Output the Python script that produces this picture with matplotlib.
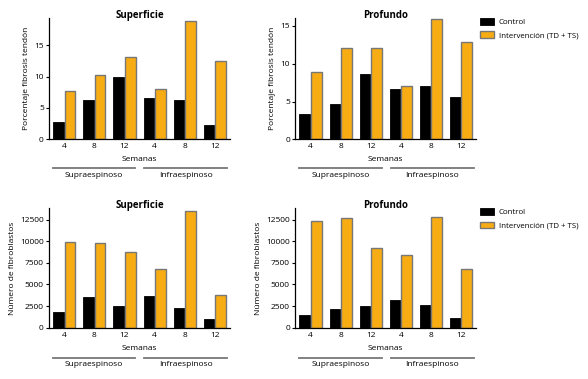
import matplotlib
matplotlib.use("Agg")
from matplotlib import pyplot as plt
from matplotlib.patches import Patch
import matplotlib.transforms as mtransforms
import numpy as np

# semanas de cada grupo (supraespinoso, infraespinoso)
semanas = ["4", "8", "12", "4", "8", "12"]
musculos = ["Supraespinoso", "Infraespinoso"]

# porcentaje de fibrosis del tendon
fibrosis_sup_control = [2.8, 6.2, 10.0, 6.65, 6.2, 2.35]
fibrosis_sup_interv = [7.7, 10.3, 13.2, 8.0, 18.9, 12.5]
fibrosis_prof_control = [3.4, 4.65, 8.65, 6.6, 7.0, 5.65]
fibrosis_prof_interv = [8.85, 12.1, 12.1, 7.1, 15.9, 12.85]

# numero de fibroblastos
fibro_sup_control = [1800, 3550, 2550, 3650, 2250, 1000]
fibro_sup_interv = [9900, 9750, 8700, 6800, 13500, 3800]
fibro_prof_control = [1450, 2200, 2450, 3150, 2600, 1100]
fibro_prof_interv = [12350, 12650, 9250, 8450, 12850, 6750]

NEGRO = "black"
NARANJA = "#F8AC14"
GRIS = "#777777"

plt.rcParams['font.family'] = ['Open Sans', 'DejaVu Sans']


def dibujar_panel(ax, control, interv, titulo, ylabel, ymax, yticks, sem_y, line_y, lab_y):
    x = np.arange(len(semanas))
    ax.bar(x - 0.19, control, width=0.355, color=NEGRO, edgecolor=NEGRO, linewidth=0.6)
    ax.bar(x + 0.19, interv, width=0.355, color=NARANJA, edgecolor=GRIS, linewidth=1.0)
    ax.set_xlim(-0.5, 5.5)
    ax.set_ylim(0, ymax)
    ax.set_yticks(yticks)
    ax.set_xticks(x)
    ax.set_xticklabels(semanas)
    ax.tick_params(axis='x', length=0, pad=3, labelsize=6)
    ax.tick_params(axis='y', length=2.5, width=0.8, pad=1.5, labelsize=6)
    for s in ['top', 'right']:
        ax.spines[s].set_visible(False)
    for s in ['left', 'bottom']:
        ax.spines[s].set_linewidth(0.9)
    ax.set_ylabel(ylabel, fontsize=6, labelpad=3)
    ax.text(0.5, 1.02, titulo, transform=ax.transAxes, ha='center', va='center',
            fontsize=7, fontweight='bold')
    ax.text(0.5, sem_y, "Semanas", transform=ax.transAxes, ha='center', va='center', fontsize=6)
    trans = mtransforms.blended_transform_factory(ax.transData, ax.transAxes)
    for x0, x1, nombre in [(-0.38, 2.36, musculos[0]), (2.66, 5.42, musculos[1])]:
        ax.plot([x0, x1], [line_y, line_y], color=GRIS, lw=1.3, transform=trans, clip_on=False)
        ax.text((x0 + x1) / 2, lab_y, nombre, transform=trans, ha='center', va='center', fontsize=6)


fig = plt.figure(figsize=(5.88, 3.79), dpi=100)
ax1 = fig.add_axes([0.0838, 0.6325, 0.307, 0.319])
ax2 = fig.add_axes([0.5025, 0.6325, 0.307, 0.319])
ax3 = fig.add_axes([0.0838, 0.1354, 0.307, 0.315])
ax4 = fig.add_axes([0.5025, 0.1354, 0.307, 0.315])

dibujar_panel(ax1, fibrosis_sup_control, fibrosis_sup_interv, "Superficie",
              "Porcentaje fibrosis tendón", 19.3, [0, 5, 10, 15], -0.165, -0.24, -0.30)
dibujar_panel(ax2, fibrosis_prof_control, fibrosis_prof_interv, "Profundo",
              "Porcentaje fibrosis tendón", 16.0, [0, 5, 10, 15], -0.165, -0.24, -0.30)
dibujar_panel(ax3, fibro_sup_control, fibro_sup_interv, "Superficie",
              "Número de fibroblastos", 13800, [0, 2500, 5000, 7500, 10000, 12500], -0.178, -0.251, -0.312)
dibujar_panel(ax4, fibro_prof_control, fibro_prof_interv, "Profundo",
              "Número de fibroblastos", 13800, [0, 2500, 5000, 7500, 10000, 12500], -0.178, -0.251, -0.312)

handles = [Patch(facecolor=NEGRO, edgecolor=NEGRO, linewidth=0.6),
           Patch(facecolor=NARANJA, edgecolor=GRIS, linewidth=1.0)]
etiquetas = ["Control", "Intervención (TD + TS)"]
for y in [0.952, 0.45]:
    fig.legend(handles, etiquetas, loc='upper left', bbox_to_anchor=(0.816, y),
               frameon=False, fontsize=5.7, handlelength=1.8, handleheight=0.9,
               handletextpad=0.6, labelspacing=0.65, borderpad=0, borderaxespad=0)

fig.savefig("out.png", dpi=100)
